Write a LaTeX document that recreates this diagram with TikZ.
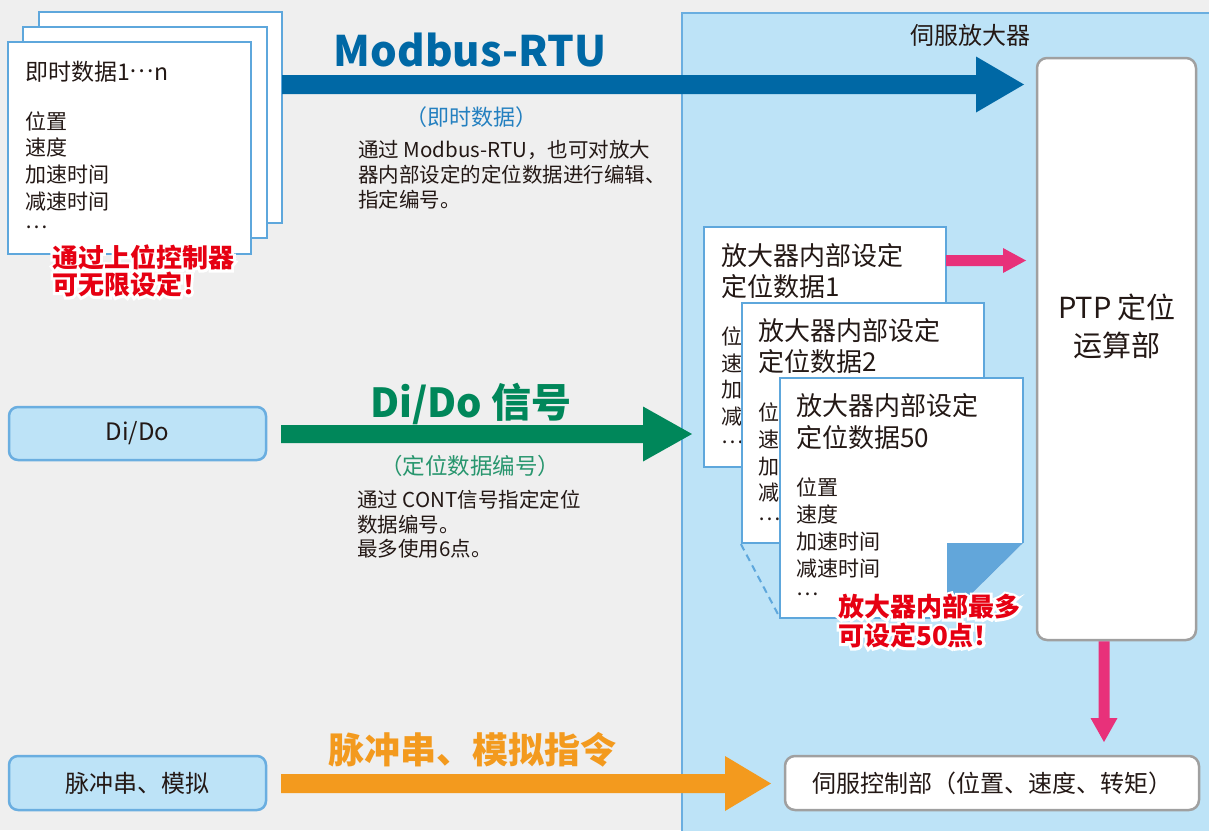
\documentclass[tikz,border=0pt]{standalone}
\usepackage{fontspec}
\setmainfont{Noto Sans CJK SC}
\usetikzlibrary{calc}
\definecolor{bgc}{RGB}{239,239,239}
\definecolor{panelf}{RGB}{189,227,247}
\definecolor{paneld}{RGB}{106,174,224}
\definecolor{cardd}{RGB}{94,167,220}
\definecolor{flapc}{RGB}{98,166,218}
\definecolor{grayd}{RGB}{160,160,160}
\definecolor{mbblue}{RGB}{0,104,165}
\definecolor{mbsub}{RGB}{36,128,192}
\definecolor{ddgreen}{RGB}{0,135,90}
\definecolor{ddsub}{RGB}{40,150,110}
\definecolor{orng}{RGB}{243,154,30}
\definecolor{pinkc}{RGB}{232,49,122}
\definecolor{redc}{RGB}{230,0,18}
\definecolor{ink}{RGB}{35,24,21}
\newcommand\fsz[1]{\fontsize{#1}{#1}\selectfont}
\newcommand\mdots{\raisebox{0.34em}{…}}
\newcommand\harrow[6]{%
  \fill[#6] ($(#1)+(0,#3)$) -- ($(#2)+(-#5,#3)$) -- ($(#2)+(-#5,#4)$) -- (#2)
   -- ($(#2)+(-#5,-#4)$) -- ($(#2)+(-#5,-#3)$) -- ($(#1)+(0,-#3)$) -- cycle;}
\newcommand\varrow[6]{%
  \fill[#6] ($(#1)+(#3,0)$) -- ($(#2)+(#3,-#5)$) -- ($(#2)+(#4,-#5)$) -- (#2)
   -- ($(#2)+(-#4,-#5)$) -- ($(#2)+(-#3,-#5)$) -- ($(#1)+(-#3,0)$) -- cycle;}
\newcommand\halo[3]{%
  \node[redlbl,text=white,font=\fsz{26}\bfseries\addfontfeature{FakeBold=20}] (#1h) at (#2) {#3};
  \node[redlbl] (#1) at (#2) {#3};}
\tikzset{
  txt/.style={inner sep=0, anchor=base west, text=ink},
  ctr/.style={inner sep=0, anchor=base, text=ink},
  item/.style={txt, font=\fsz{21}},
  ctitle/.style={txt, font=\fsz{26}},
  desc/.style={txt, font=\fsz{20.5}},
  redlbl/.style={inner sep=0, anchor=base west, text=redc, font=\fsz{26}\bfseries},
  card/.style={draw=cardd, fill=white, line width=2.2pt, inner sep=0},
  lbox/.style={draw=paneld, fill=panelf, line width=2.5pt, rounded corners=9pt, inner sep=0, text=ink, font=\fsz{24}},
  wbox/.style={draw=grayd, fill=white, line width=2.5pt, rounded corners=10pt, inner sep=0, text=ink, font=\fsz{24}},
}
\begin{document}
\begin{tikzpicture}[x=1pt,y=-1pt]
\useasboundingbox (0,0) rectangle (1209,830);
\fill[bgc] (0,0) rectangle (1209,830);
% servo amplifier panel
\filldraw[fill=panelf, draw=paneld, line width=2pt] (682,12.5) rectangle (1220,845);
\node[ctr, font=\fsz{24}] (amp) at (970,44.9) {伺服放大器};

% top-left stacked cards
\node[card, minimum width=243pt, minimum height=211pt] (tl3) at (160.5,117.5) {};
\node[card, minimum width=244pt, minimum height=211pt] (tl2) at (145,132.5) {};
\node[card, minimum width=243pt, minimum height=212pt] (tl1) at (129.5,148) {};
\node[txt, font=\fsz{23}] (tlt) at (25,80.5) {即时数据1\mdots n};
\foreach \t [count=\i] in {位置,速度,加速时间,减速时间,\mdots}
  \node[item] (tli\i) at (25,{129+26.7*(\i-1)}) {\t};
\halo{tlr1}{52,267.6}{通过上位控制器}
\halo{tlr2}{52,294.6}{可无限设定！}

% Modbus arrow
\coordinate (mbS) at (282,84.5);
\coordinate (mbE) at (1024,84.5);
\harrow{mbS}{mbE}{9.5}{28}{48}{mbblue}
\node[ctr, text=mbblue, font=\fsz{42}\bfseries] (mbt) at (470,66) {Modbus-RTU};
\node[ctr, text=mbsub, font=\fsz{22}] (mbs) at (471,125) {（即时数据）};
\node[desc] (mbd1) at (358,157.6) {通过 Modbus-RTU，也可对放大};
\node[desc] (mbd2) at (358,182.6) {器内部设定的定位数据进行编辑、};
\node[desc] (mbd3) at (358,207.6) {指定编号。};

% Di/Do
\node[lbox, minimum width=257pt, minimum height=53pt] (dido) at (137.5,433.5) {Di/Do};
\coordinate (ddS) at (281,434);
\coordinate (ddE) at (692,434);
\harrow{ddS}{ddE}{9}{27.5}{49}{ddgreen}
\node[ctr, text=ddgreen, font=\fsz{40}\bfseries] (ddt) at (471,417.5) {Di/Do 信号};
\node[ctr, text=ddsub, font=\fsz{22.5}] (dds) at (470,474.3) {（定位数据编号）};
\node[desc] (ddd1) at (357,507.6) {通过 CONT信号指定定位};
\node[desc] (ddd2) at (357,532.1) {数据编号。};
\node[desc] (ddd3) at (357,556.6) {最多使用6点。};

% pulse
\node[lbox, minimum width=257pt, minimum height=54pt] (pulse) at (137.5,783) {脉冲串、模拟};
\coordinate (puS) at (281,783.5);
\coordinate (puE) at (771,783.5);
\harrow{puS}{puE}{9.5}{27.5}{46}{orng}
\node[ctr, text=orng, font=\fsz{36}\bfseries] (put) at (472,763.3) {脉冲串、模拟指令};

% PTP and servo control
\node[wbox, minimum width=159pt, minimum height=582pt] (ptp) at (1116.5,349) {};
\node[ctr, font=\fsz{29}] (ptp1) at (1117,318.8) {PTP 定位};
\node[ctr, font=\fsz{29}] (ptp2) at (1117,356.8) {运算部};
\node[wbox, minimum width=414pt, minimum height=54pt] (servo) at (992,783) {伺服控制部（位置、速度、转矩）};
\coordinate (pdS) at ($(ptp.south)+(-12.5,0)$);
\coordinate (pdE) at (1104,742);
\varrow{pdS}{pdE}{5.5}{13.5}{24}{pinkc}

% internal position data cards
\node[card, minimum width=242pt, minimum height=240pt] (c1) at (825,347) {};
\node[ctitle] (c1t1) at (721,265.6) {放大器内部设定};
\node[ctitle] (c1t2) at (721,296.6) {定位数据1};
\foreach \t [count=\i] in {位置,速度,加速时间,减速时间,\mdots}
  \node[item] (c1i\i) at (721,{344.6+26.5*(\i-1)}) {\t};
\coordinate (prS) at (946,260.5);
\coordinate (prE) at (1026,260.5);
\harrow{prS}{prE}{5.5}{12.5}{23}{pinkc}

\node[card, minimum width=242pt, minimum height=240pt] (c2) at (863,423) {};
\node[ctitle] (c2t1) at (758,340.6) {放大器内部设定};
\node[ctitle] (c2t2) at (758,371.6) {定位数据2};
\foreach \t [count=\i] in {位置,速度,加速时间,减速时间,\mdots}
  \node[item] (c2i\i) at (758,{420.6+26.7*(\i-1)}) {\t};

\coordinate (c3nw) at (780,378);
\coordinate (c3ne) at (1023,378);
\coordinate (c3e) at (1023,543);
\coordinate (c3f) at (947,543);
\coordinate (c3s) at (947,618);
\coordinate (c3sw) at (780,618);
\draw[cardd, line width=2pt, dashed, dash pattern=on 7pt off 5pt] (c2.south west) -- (c3sw);
\fill[white] (c3nw) -- (c3ne) -- (c3e) -- (c3s) -- (c3sw) -- cycle;
\fill[flapc] (c3f) -- (c3e) -- (c3s) -- cycle;
\draw[cardd, line width=2.2pt] (c3s) -- (c3sw) -- (c3nw) -- (c3ne) -- (c3e);
\node[ctitle] (c3t1) at (796,415.6) {放大器内部设定};
\node[ctitle] (c3t2) at (796,447.6) {定位数据50};
\foreach \t [count=\i] in {位置,速度,加速时间,减速时间,\mdots}
  \node[item] (c3i\i) at (796,{495.1+27*(\i-1)}) {\t};
\halo{mr1}{838,616.6}{放大器内部最多}
\halo{mr2}{838,645.6}{可设定50点！}
\end{tikzpicture}
\end{document}
